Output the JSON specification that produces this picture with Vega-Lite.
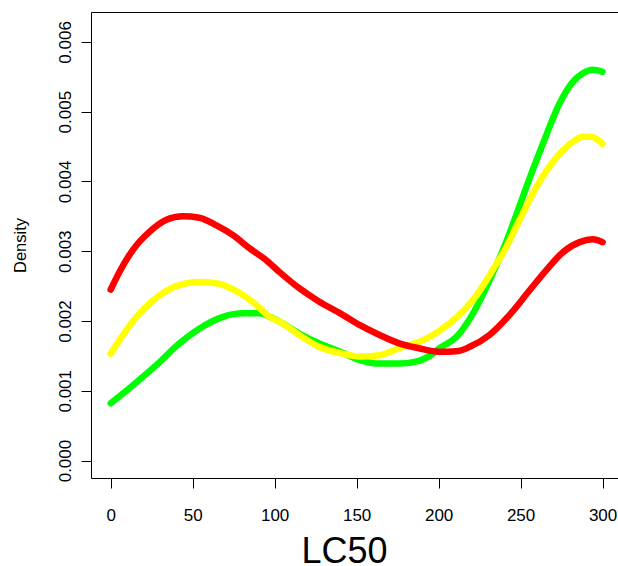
{
  "$schema": "https://vega.github.io/schema/vega-lite/v6.json",
  "width": 527,
  "height": 466,
  "autosize": {"type": "none"},
  "padding": {"left": 91, "top": 12, "right": 0, "bottom": 88},
  "background": "white",
  "config": {
    "view": {"stroke": null},
    "font": "Liberation Sans",
    "axis": {"grid": false, "domainColor": "black", "tickColor": "black", "labelColor": "black", "titleColor": "black", "domainWidth": 1, "tickWidth": 1}
  },
  "data": {
    "values": [
      {"s": "green", "x": 0, "d": 0.00082}, {"s": "green", "x": 13.6, "d": 0.00108}, {"s": "green", "x": 28, "d": 0.00137}, {"s": "green", "x": 42, "d": 0.00168}, {"s": "green", "x": 54, "d": 0.00189}, {"s": "green", "x": 68.5, "d": 0.00206}, {"s": "green", "x": 80.7, "d": 0.00211}, {"s": "green", "x": 91, "d": 0.00211}, {"s": "green", "x": 97, "d": 0.00206}, {"s": "green", "x": 103, "d": 0.00199}, {"s": "green", "x": 115, "d": 0.00182}, {"s": "green", "x": 127, "d": 0.00168}, {"s": "green", "x": 140, "d": 0.00156}, {"s": "green", "x": 152, "d": 0.00144}, {"s": "green", "x": 164, "d": 0.00139}, {"s": "green", "x": 176, "d": 0.00139}, {"s": "green", "x": 188, "d": 0.00143}, {"s": "green", "x": 194.5, "d": 0.0015}, {"s": "green", "x": 200.6, "d": 0.00161}, {"s": "green", "x": 210.8, "d": 0.00177}, {"s": "green", "x": 221, "d": 0.00211}, {"s": "green", "x": 233, "d": 0.00268}, {"s": "green", "x": 243.3, "d": 0.00326}, {"s": "green", "x": 253.5, "d": 0.00392}, {"s": "green", "x": 263.6, "d": 0.00454}, {"s": "green", "x": 273.8, "d": 0.00512}, {"s": "green", "x": 282, "d": 0.00543}, {"s": "green", "x": 288, "d": 0.00555}, {"s": "green", "x": 294, "d": 0.0056}, {"s": "green", "x": 300, "d": 0.00557},
      {"s": "yellow", "x": 0, "d": 0.00153}, {"s": "yellow", "x": 9.6, "d": 0.00187}, {"s": "yellow", "x": 19.7, "d": 0.00216}, {"s": "yellow", "x": 30, "d": 0.00237}, {"s": "yellow", "x": 40, "d": 0.0025}, {"s": "yellow", "x": 54, "d": 0.00256}, {"s": "yellow", "x": 64.5, "d": 0.00254}, {"s": "yellow", "x": 78.7, "d": 0.0024}, {"s": "yellow", "x": 88.8, "d": 0.00223}, {"s": "yellow", "x": 97, "d": 0.00206}, {"s": "yellow", "x": 103, "d": 0.00199}, {"s": "yellow", "x": 115, "d": 0.0018}, {"s": "yellow", "x": 127, "d": 0.00163}, {"s": "yellow", "x": 140, "d": 0.00154}, {"s": "yellow", "x": 152, "d": 0.00149}, {"s": "yellow", "x": 164, "d": 0.00151}, {"s": "yellow", "x": 176, "d": 0.00161}, {"s": "yellow", "x": 188, "d": 0.0017}, {"s": "yellow", "x": 196.5, "d": 0.0018}, {"s": "yellow", "x": 201, "d": 0.00187}, {"s": "yellow", "x": 209, "d": 0.00201}, {"s": "yellow", "x": 221, "d": 0.0023}, {"s": "yellow", "x": 233, "d": 0.00273}, {"s": "yellow", "x": 241.3, "d": 0.00306}, {"s": "yellow", "x": 249.4, "d": 0.00345}, {"s": "yellow", "x": 259.6, "d": 0.00392}, {"s": "yellow", "x": 274, "d": 0.0044}, {"s": "yellow", "x": 282, "d": 0.00457}, {"s": "yellow", "x": 288, "d": 0.00464}, {"s": "yellow", "x": 293, "d": 0.00464}, {"s": "yellow", "x": 300, "d": 0.00454},
      {"s": "red", "x": 0, "d": 0.00245}, {"s": "red", "x": 5.5, "d": 0.00271}, {"s": "red", "x": 13.6, "d": 0.00302}, {"s": "red", "x": 23.8, "d": 0.00328}, {"s": "red", "x": 34, "d": 0.00345}, {"s": "red", "x": 44, "d": 0.0035}, {"s": "red", "x": 54, "d": 0.00348}, {"s": "red", "x": 64.5, "d": 0.00337}, {"s": "red", "x": 74.6, "d": 0.00323}, {"s": "red", "x": 84.8, "d": 0.00304}, {"s": "red", "x": 94.9, "d": 0.00287}, {"s": "red", "x": 103, "d": 0.0027}, {"s": "red", "x": 115, "d": 0.00247}, {"s": "red", "x": 127, "d": 0.00228}, {"s": "red", "x": 140, "d": 0.00211}, {"s": "red", "x": 152, "d": 0.00194}, {"s": "red", "x": 164, "d": 0.0018}, {"s": "red", "x": 176, "d": 0.00168}, {"s": "red", "x": 188, "d": 0.00161}, {"s": "red", "x": 200, "d": 0.00156}, {"s": "red", "x": 205, "d": 0.00156}, {"s": "red", "x": 212, "d": 0.00157}, {"s": "red", "x": 219, "d": 0.00163}, {"s": "red", "x": 231, "d": 0.0018}, {"s": "red", "x": 243, "d": 0.00208}, {"s": "red", "x": 255.5, "d": 0.00244}, {"s": "red", "x": 265.7, "d": 0.00273}, {"s": "red", "x": 276, "d": 0.00299}, {"s": "red", "x": 286, "d": 0.00313}, {"s": "red", "x": 294, "d": 0.00317}, {"s": "red", "x": 300, "d": 0.00313}
    ]
  },
  "resolve": {"axis": {"x": "independent"}},
  "layer": [
    {
      "transform": [{"filter": "datum.s === 'green'"}],
      "mark": {"type": "line", "color": "#00FF00", "strokeWidth": 6.5, "strokeCap": "round", "strokeJoin": "round", "interpolate": "monotone"},
      "encoding": {
        "x": {"field": "x", "type": "quantitative", "scale": {"domain": [-12, 309.4], "nice": false, "zero": false},
          "axis": {"orient": "bottom", "values": [0, 50, 100, 150, 200, 250, 300], "tickSize": 10, "labelFontSize": 17, "labelBaseline": "alphabetic", "labelPadding": 32, "labelFlush": false, "labelOverlap": false,
            "title": "LC50", "titleFontSize": 36, "titleFontWeight": "normal", "titleX": 253, "titleY": 84, "titleAlign": "center", "titleBaseline": "alphabetic", "titleAnchor": null}},
        "y": {"field": "d", "type": "quantitative", "scale": {"domain": [-0.00025, 0.006428], "nice": false, "zero": false},
          "axis": {"values": [0, 0.001, 0.002, 0.003, 0.004, 0.005, 0.006], "format": ".3f", "tickSize": 10, "labelFontSize": 17, "labelAngle": -90, "labelAlign": "center", "labelBaseline": "alphabetic", "labelPadding": 11, "labelFlush": false, "labelOverlap": false,
            "title": "Density", "titleFontSize": 16.5, "titleFontWeight": "normal", "titleAngle": -90, "titleX": -66, "titleY": 233, "titleAlign": "center", "titleBaseline": "alphabetic"}}
      }
    },
    {
      "transform": [{"filter": "datum.s === 'yellow'"}],
      "mark": {"type": "line", "color": "#FFFF00", "strokeWidth": 6.5, "strokeCap": "round", "strokeJoin": "round", "interpolate": "monotone"},
      "encoding": {
        "x": {"field": "x", "type": "quantitative", "axis": {"orient": "top", "ticks": false, "labels": false, "title": null, "domain": true}},
        "y": {"field": "d", "type": "quantitative"}
      }
    },
    {
      "transform": [{"filter": "datum.s === 'red'"}],
      "mark": {"type": "line", "color": "#FF0000", "strokeWidth": 6.5, "strokeCap": "round", "strokeJoin": "round", "interpolate": "monotone"},
      "encoding": {
        "x": {"field": "x", "type": "quantitative", "axis": null},
        "y": {"field": "d", "type": "quantitative"}
      }
    }
  ]
}
